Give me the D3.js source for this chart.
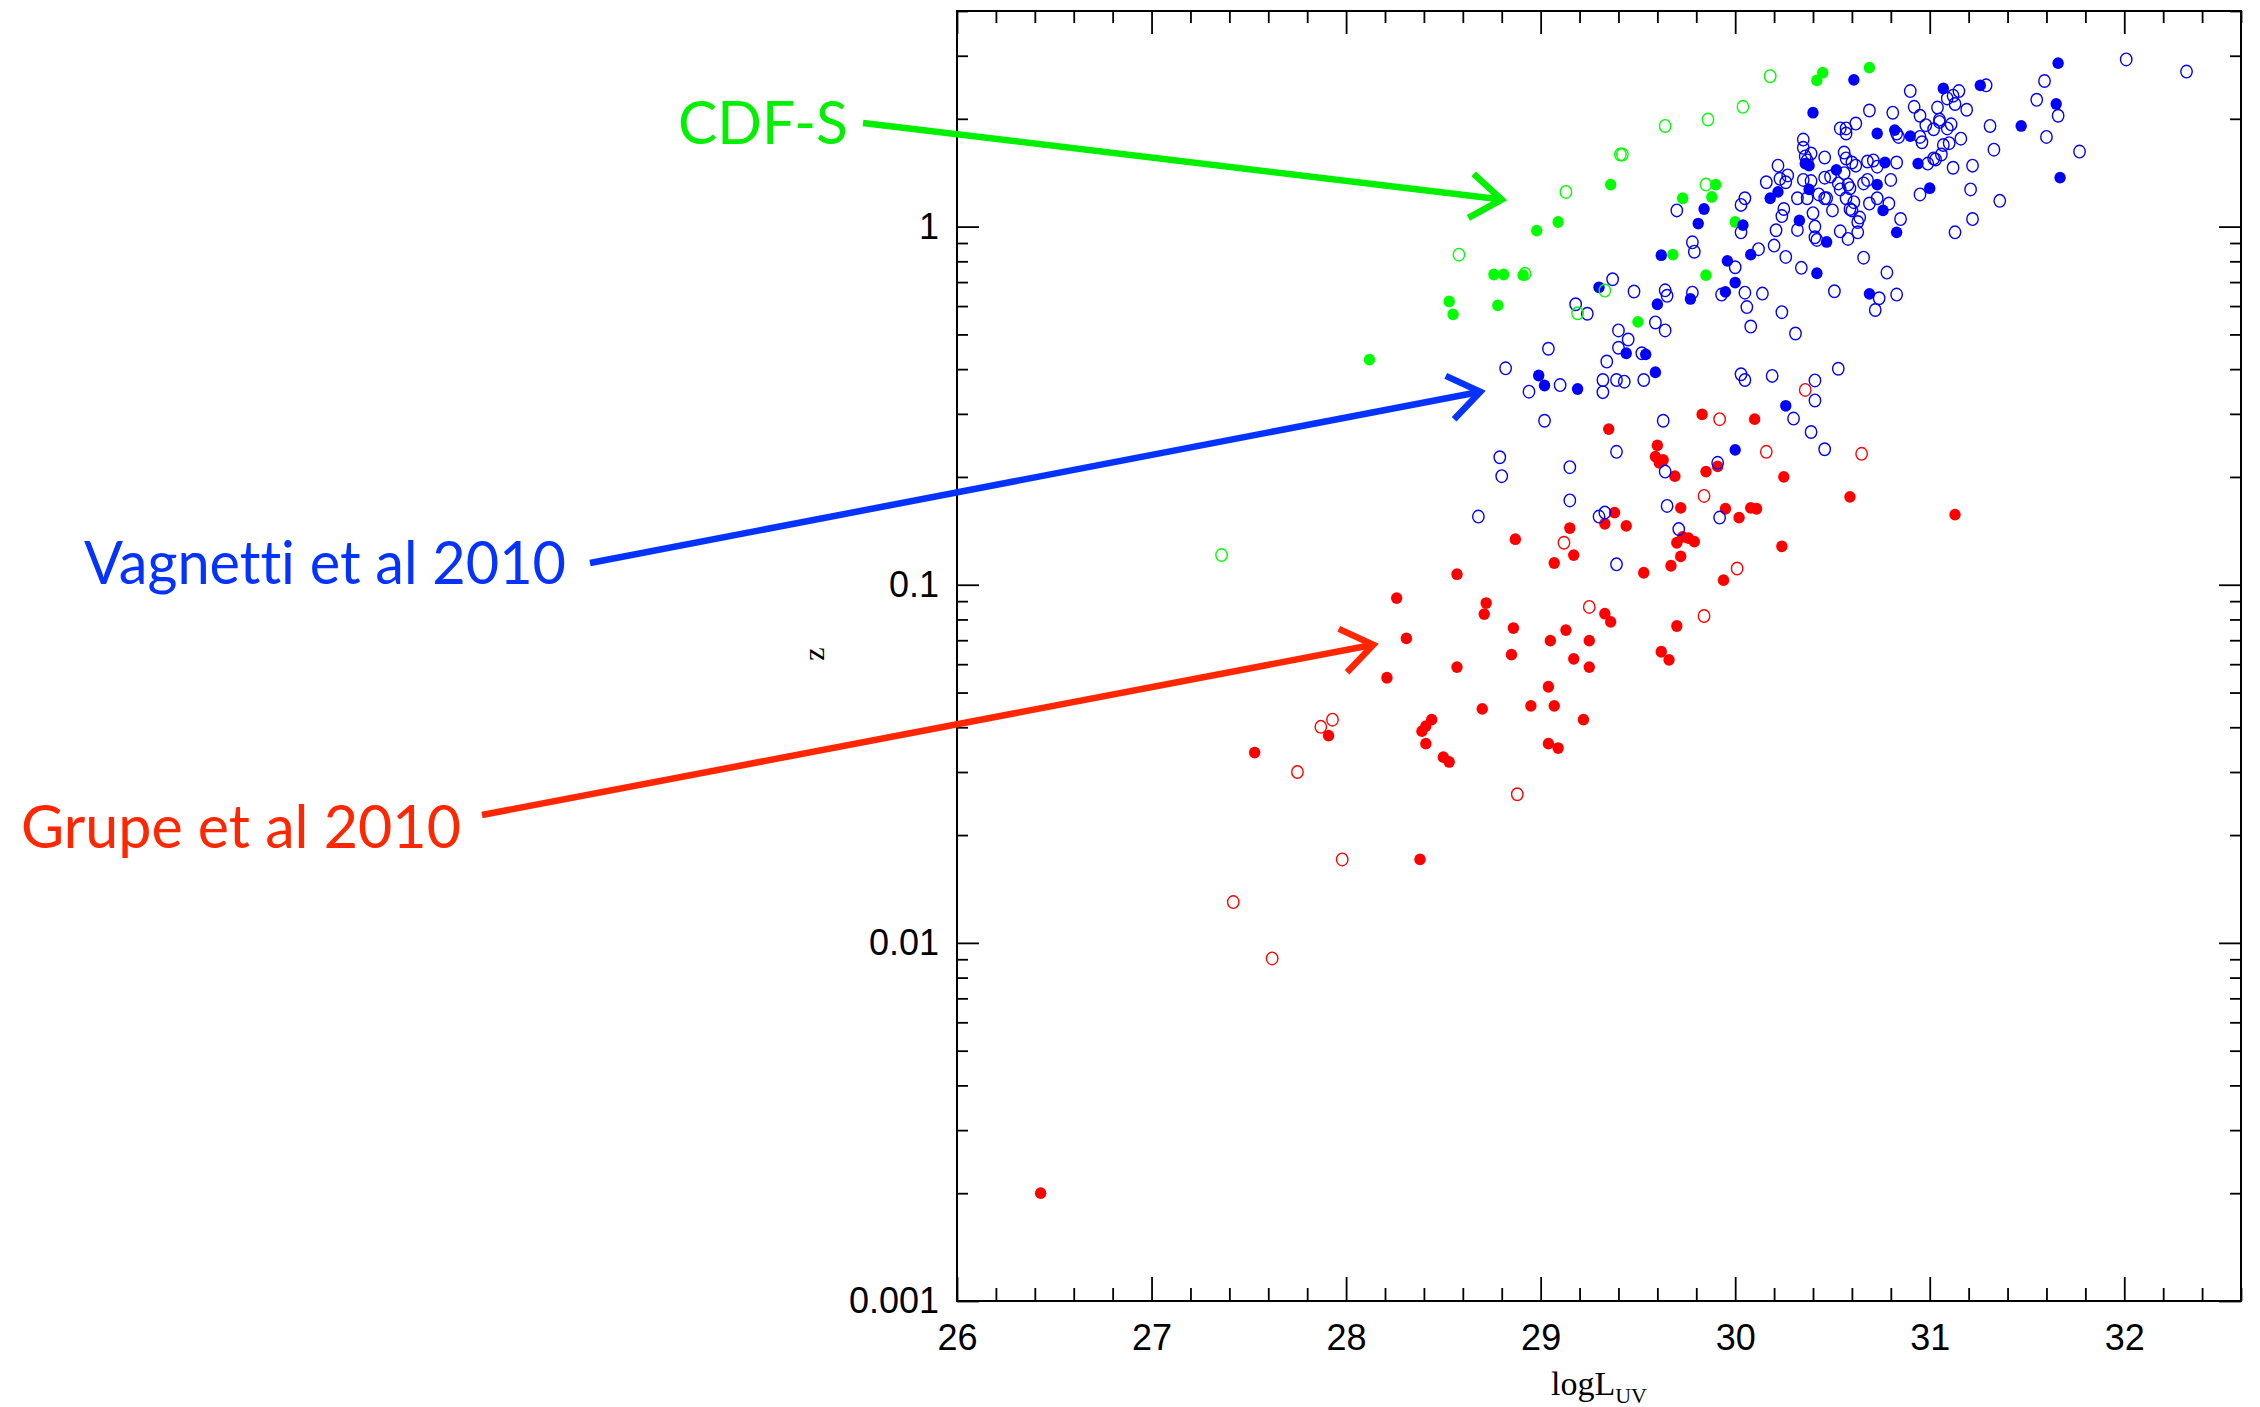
<!DOCTYPE html>
<html>
<head>
<meta charset="utf-8">
<script src="https://cdn.jsdelivr.net/npm/d3@7"></script>
<style>
  html, body { margin: 0; padding: 0; background: #ffffff; }
  svg { display: block; }
  .note { font-variant-ligatures: none; font-feature-settings: "liga" 0, "clig" 0; }
</style>
</head>
<body>
<svg id="chart" width="2260" height="1407"></svg>
<script>
// ---- Data: [log L_UV, z] ----
// Grupe et al. 2010 (red)
const grupeFilled = [
  [29.35,0.272],[29.83,0.299],[30.10,0.290],[29.60,0.245],
  [29.59,0.228],[29.63,0.223],[29.61,0.219],[29.69,0.201],[29.85,0.207],[29.91,0.214],
  [30.25,0.200],[30.59,0.176],[31.13,0.157],[29.38,0.159],[29.33,0.148],[29.44,0.146],
  [29.72,0.164],[29.95,0.163],[30.08,0.164],[30.11,0.163],[30.02,0.154],[29.70,0.131],
  [29.73,0.136],[29.76,0.135],[29.79,0.132],[29.72,0.120],[29.67,0.113],[29.53,0.108],
  [29.94,0.103],[30.24,0.128],[29.33,0.0830],[29.36,0.0788],[29.70,0.0767],[29.62,0.0650],
  [29.66,0.0617],
  [29.15,0.144],[28.87,0.134],[29.17,0.121],[29.07,0.115],[28.57,0.107],[28.26,0.0918],
  [28.72,0.0889],[28.71,0.0828],[28.86,0.0757],[29.13,0.0747],[29.05,0.0698],[29.25,0.0698],
  [28.31,0.0708],[28.85,0.0638],[29.17,0.0621],[29.25,0.0589],[28.57,0.0589],[28.21,0.0550],
  [29.04,0.0519],[28.70,0.0450],[28.95,0.0459],[29.07,0.0459],[29.22,0.0420],[28.44,0.0420],
  [28.41,0.0403],[28.39,0.0390],[28.41,0.0360],[29.04,0.0360],[29.09,0.0350],[28.50,0.0330],
  [28.53,0.0320],[27.91,0.0379],[27.53,0.0340],
  [28.38,0.0171],[26.43,0.0020]
];
const grupeOpen = [
  [30.36,0.350],[29.92,0.290],[30.16,0.235],[30.65,0.232],[29.84,0.177],[30.01,0.111],
  [29.84,0.0818],[29.12,0.131],[29.25,0.0867],[27.93,0.0420],[27.87,0.0401],[27.75,0.0300],
  [28.88,0.0260],[27.98,0.0171],[27.42,0.0130],[27.62,0.00905]
];

// Vagnetti et al. 2010 (blue)
const vagnettiFilled = [
  [30.61,2.57],[31.66,2.86],[31.07,2.43],[31.26,2.48],[30.40,2.08],[31.65,2.20],[31.47,1.91],
  [30.73,1.82],[30.82,1.86],[30.90,1.79],[30.77,1.51],[30.94,1.50],[30.52,1.44],[30.36,1.50],
  [30.38,1.48],[30.38,1.27],[30.22,1.25],[30.18,1.20],[30.73,1.31],[31.67,1.37],[31.00,1.28],
  [29.84,1.12],[29.81,1.02],[30.04,1.01],[30.33,1.04],[30.76,1.11],[30.47,0.906],[30.83,0.964],
  [29.62,0.832],[30.08,0.835],[29.96,0.802],[30.42,0.741],[30.00,0.698],[29.95,0.657],
  [29.60,0.607],[29.77,0.628],[30.69,0.649],[29.30,0.677],[29.44,0.443],[29.54,0.440],
  [29.59,0.392],[30.26,0.316],[30.00,0.238],[28.99,0.384],[29.02,0.360],[29.19,0.352]
];
const vagnettiOpen = [
  [32.01,2.93],[32.32,2.71],[31.29,2.48],[31.59,2.55],[30.90,2.39],[31.15,2.39],[31.55,2.26],
  [31.12,2.32],[31.09,2.28],[31.13,2.20],[31.04,2.15],[31.19,2.12],[30.92,2.16],[30.95,2.04],
  [30.69,2.11],[30.81,2.08],[30.62,1.94],[30.54,1.88],[30.57,1.88],[30.57,1.82],[31.31,1.91],
  [31.66,2.04],[31.60,1.78],[30.98,1.92],[31.05,1.99],[31.11,1.93],[31.02,1.87],[31.09,1.88],
  [31.05,1.96],[30.83,1.82],[30.84,1.78],[30.95,1.78],[30.96,1.72],[31.16,1.76],[31.10,1.71],
  [31.07,1.69],[30.35,1.75],[30.35,1.66],[30.39,1.60],[30.46,1.56],[30.36,1.57],[30.56,1.61],
  [30.57,1.55],[30.60,1.51],[30.62,1.48],[30.68,1.52],[30.71,1.53],[30.73,1.47],[30.83,1.51],
  [31.33,1.64],[31.77,1.62],[30.22,1.48],[30.37,1.53],[31.06,1.59],[31.02,1.55],[30.99,1.50],
  [31.03,1.54],[31.12,1.46],[31.22,1.48],[30.16,1.33],[30.23,1.36],[30.26,1.33],[30.27,1.39],
  [30.35,1.35],[30.39,1.34],[30.46,1.37],[30.49,1.38],[30.56,1.41],[30.53,1.32],[30.58,1.31],
  [30.54,1.27],[30.59,1.28],[30.66,1.32],[30.68,1.35],[30.80,1.35],[30.43,1.23],[30.46,1.20],
  [30.47,1.20],[30.32,1.20],[30.37,1.20],[30.57,1.20],[30.61,1.17],[30.69,1.16],[30.73,1.20],
  [30.79,1.16],[31.21,1.27],[31.36,1.18],[30.95,1.23],[30.03,1.15],[30.05,1.20],[29.70,1.11],
  [30.25,1.12],[30.24,1.07],[30.40,1.09],[30.50,1.11],[30.59,1.12],[30.60,1.11],[30.64,1.06],
  [30.63,1.03],[30.85,1.05],[31.22,1.05],[31.13,0.964],[30.21,0.977],[30.32,0.979],[30.41,1.00],
  [30.41,0.934],[30.42,0.918],[30.54,0.970],[30.58,0.924],[30.63,0.964],[30.03,0.964],
  [29.78,0.904],[29.79,0.851],[30.12,0.865],[30.20,0.885],[30.26,0.823],[30.34,0.767],
  [30.66,0.819],[30.78,0.744],[29.37,0.713],[29.48,0.659],[29.64,0.664],[29.65,0.641],
  [29.78,0.654],[29.93,0.646],[30.05,0.654],[30.14,0.650],[30.06,0.596],[30.24,0.577],
  [30.51,0.660],[30.72,0.585],[30.74,0.631],[30.83,0.646],[30.00,0.770],[29.59,0.540],
  [29.64,0.513],[30.08,0.526],[30.31,0.503],[29.40,0.513],[29.45,0.484],[29.40,0.459],
  [29.52,0.443],[29.34,0.420],[29.32,0.373],[29.39,0.373],[29.43,0.369],[29.53,0.373],
  [29.32,0.345],[30.03,0.387],[30.05,0.373],[30.19,0.383],[30.53,0.401],[30.41,0.372],
  [30.41,0.327],[30.30,0.291],[30.39,0.267],[29.63,0.287],
  [29.18,0.607],[29.24,0.571],[29.04,0.456],[28.82,0.402],[28.94,0.346],[29.10,0.361],
  [29.02,0.287],[28.79,0.227],[28.80,0.201],[29.15,0.213],[29.15,0.172],[28.68,0.155],
  [29.39,0.235],[30.46,0.239],[29.64,0.207],[29.91,0.219],[29.65,0.166],[29.92,0.154],
  [29.33,0.159],[29.30,0.155],[29.71,0.143],[29.39,0.114]
];

// CDF-S (green)
const cdfsFilled = [
  [30.45,2.69],[30.42,2.56],[30.69,2.78],[29.36,1.31],[29.90,1.31],[29.73,1.20],[29.88,1.21],
  [30.00,1.03],[29.68,0.835],[29.85,0.732],[29.50,0.542],
  [28.98,0.975],[29.09,1.03],[28.76,0.735],[28.81,0.735],[28.91,0.732],[28.53,0.618],
  [28.55,0.569],[28.78,0.603],[28.12,0.425]
];
const cdfsOpen = [
  [30.18,2.63],[30.04,2.16],[29.64,1.91],[29.86,1.99],[29.41,1.59],[29.42,1.59],[29.85,1.31],
  [29.33,0.663],[28.58,0.835],[29.13,1.25],[28.92,0.738],[29.19,0.573],[27.36,0.121]
];

// Axis ticks
const xTicks = [26, 27, 28, 29, 30, 31, 32];
const yTicks = [0.001, 0.01, 0.1, 1];
const yTickLabels = ["0.001", "0.01", "0.1", "1"];

// Annotation labels; arrow heads point at [logL, z]
const labelNames = ["CDF-S", "Vagnetti et al 2010", "Grupe et al 2010"];
const labelColors = ["#00f000", "#0433ff", "#ff2600"];
const labelTargets = [[28.80, 1.19], [28.69, 0.346], [28.14, 0.068]];

// ---- Layout ----
const svg = d3.select("#chart");
const plot = { left: 957, right: 2241, top: 11, bottom: 1301 };

const x = d3.scaleLinear().domain([26, 32.6]).range([plot.left, plot.right]);
const y = d3.scaleLog().domain([0.001, 4]).range([plot.bottom, plot.top]);

const tickFont = "'Liberation Sans', Arial, Helvetica, sans-serif";
const serifFont = "'Liberation Serif', 'Times New Roman', serif";

// Minor ticks
const xMinor = d3.range(26, 32.61, 0.2).filter(v => Math.abs(v - Math.round(v)) > 1e-6);
const yMinor = y.ticks().filter(v => !yTicks.some(t => Math.abs(Math.log10(v) - Math.log10(t)) < 1e-6));

function styleAxis(g) {
  g.select(".domain").remove();
  g.selectAll(".tick line").attr("stroke", "#000").attr("stroke-width", 1.8);
  g.selectAll(".tick text")
    .attr("font-family", tickFont)
    .attr("font-size", 36)
    .attr("fill", "#000");
}

// Bottom axis with labels
svg.append("g")
  .attr("transform", `translate(0,${plot.bottom})`)
  .call(d3.axisBottom(x).tickValues(xTicks).tickSize(-24).tickPadding(23).tickFormat(d3.format("d")))
  .call(styleAxis);
svg.append("g")
  .attr("transform", `translate(0,${plot.bottom})`)
  .call(d3.axisBottom(x).tickValues(xMinor).tickSize(-13).tickFormat(""))
  .call(styleAxis);

// Top axis (ticks only)
svg.append("g")
  .attr("transform", `translate(0,${plot.top})`)
  .call(d3.axisTop(x).tickValues(xTicks).tickSize(-23).tickFormat(""))
  .call(styleAxis);
svg.append("g")
  .attr("transform", `translate(0,${plot.top})`)
  .call(d3.axisTop(x).tickValues(xMinor).tickSize(-12).tickFormat(""))
  .call(styleAxis);

// Left axis with labels
svg.append("g")
  .attr("transform", `translate(${plot.left},0)`)
  .call(d3.axisLeft(y).tickValues(yTicks).tickSize(-22).tickPadding(18)
    .tickFormat((d, i) => yTickLabels[i]))
  .call(styleAxis);
svg.append("g")
  .attr("transform", `translate(${plot.left},0)`)
  .call(d3.axisLeft(y).tickValues(yMinor).tickSize(-11).tickFormat(""))
  .call(styleAxis);

// Right axis (ticks only)
svg.append("g")
  .attr("transform", `translate(${plot.right},0)`)
  .call(d3.axisRight(y).tickValues(yTicks).tickSize(-22).tickFormat(""))
  .call(styleAxis);
svg.append("g")
  .attr("transform", `translate(${plot.right},0)`)
  .call(d3.axisRight(y).tickValues(yMinor).tickSize(-11).tickFormat(""))
  .call(styleAxis);

// Frame
svg.append("rect")
  .attr("x", plot.left).attr("y", plot.top)
  .attr("width", plot.right - plot.left).attr("height", plot.bottom - plot.top)
  .attr("fill", "none").attr("stroke", "#000").attr("stroke-width", 2);

// Axis titles
const xTitle = svg.append("text")
  .attr("x", (plot.left + plot.right) / 2).attr("y", 1395)
  .attr("text-anchor", "middle")
  .attr("font-family", serifFont).attr("font-size", 34).attr("fill", "#000");
xTitle.append("tspan").text("logL");
xTitle.append("tspan").attr("font-size", 22).attr("dy", 8).text("UV");

svg.append("text")
  .attr("transform", "translate(813,654) rotate(-90)")
  .attr("text-anchor", "middle").attr("dominant-baseline", "central")
  .attr("font-family", serifFont).attr("font-size", 30).attr("fill", "#000")
  .text("z");

// ---- Points ----
const pts = svg.append("g");
function filled(data, color) {
  pts.append("g").selectAll("ellipse").data(data).join("ellipse")
    .attr("cx", d => x(d[0])).attr("cy", d => y(d[1]))
    .attr("rx", 5.7).attr("ry", 5.9).attr("fill", color);
}
function open(data, color) {
  pts.append("g").selectAll("ellipse").data(data).join("ellipse")
    .attr("cx", d => x(d[0])).attr("cy", d => y(d[1]))
    .attr("rx", 5.7).attr("ry", 6.3)
    .attr("fill", "none").attr("stroke", color).attr("stroke-width", 1.4);
}
filled(grupeFilled, "#ff0000");
open(grupeOpen, "#ff0000");
filled(cdfsFilled, "#00ff00");
filled(vagnettiFilled, "#0000ff");
open(vagnettiOpen, "#0000ff");
open(cdfsOpen, "#00ff00");

// ---- Annotations: label, line and open arrow head ----
const labelPos = [[678, 144, 170], [84, 584, 482], [21, 848, 440]];   // x, baseline, text length
const tailPos = [[863, 123], [590, 563], [482, 815]];

labelNames.forEach((name, i) => {
  const [lx, ly, len] = labelPos[i];
  svg.append("text")
    .attr("class", "note")
    .attr("x", lx).attr("y", ly)
    .attr("font-family", "Lato, 'Open Sans', sans-serif")
    .attr("font-size", 60)
    .attr("textLength", len).attr("lengthAdjust", "spacingAndGlyphs")
    .attr("fill", labelColors[i])
    .text(name);

  const [tx, ty] = tailPos[i];
  const hx = x(labelTargets[i][0]), hy = y(labelTargets[i][1]);
  const ang = Math.atan2(hy - ty, hx - tx);
  const arm = 38, spread = 0.62;
  const a1 = [hx - arm * Math.cos(ang - spread), hy - arm * Math.sin(ang - spread)];
  const a2 = [hx - arm * Math.cos(ang + spread), hy - arm * Math.sin(ang + spread)];
  svg.append("path")
    .attr("d", `M${tx},${ty}L${hx},${hy}`)
    .attr("stroke", labelColors[i]).attr("stroke-width", 6.5).attr("fill", "none");
  svg.append("path")
    .attr("d", `M${a1[0]},${a1[1]}L${hx},${hy}L${a2[0]},${a2[1]}`)
    .attr("stroke", labelColors[i]).attr("stroke-width", 6.5).attr("fill", "none")
    .attr("stroke-linejoin", "miter").attr("stroke-miterlimit", 10);
});
</script>
</body>
</html>
